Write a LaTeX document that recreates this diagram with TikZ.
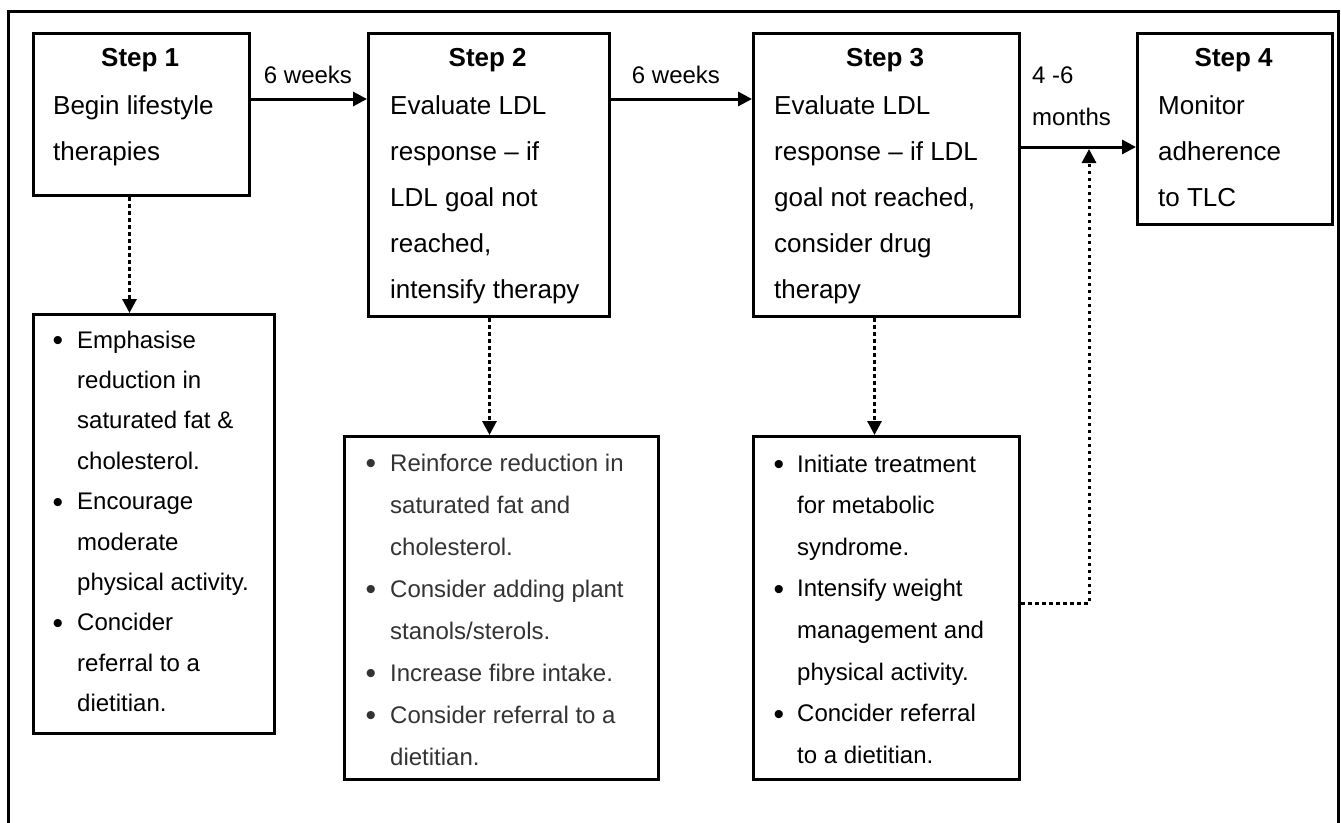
\documentclass[tikz,border=0pt]{standalone}
\usepackage{fontspec}
\setmainfont{Liberation Sans}
\usetikzlibrary{arrows.meta}
\definecolor{listgray}{HTML}{333333}
\newcommand\bul{\raisebox{-2.5pt}{\fontsize{30pt}{30pt}\selectfont •}}
\newcommand\itm{\leavevmode\llap{\bul\hspace{14pt}}}
\newcommand\itmb{\leavevmode\llap{\bul\hspace{13pt}}}
\tikzset{
  frame/.style={draw, line width=3pt},
  stepbox/.style={draw, line width=3pt, inner sep=0pt, anchor=north west},
  txt/.style={inner sep=0pt, anchor=base west},
  lbl/.style={inner sep=0pt, anchor=base, font=\fontsize{24pt}{42pt}\selectfont},
  flow/.style={line width=3pt, -{Triangle[length=14pt,width=14pt]}},
  dotflow/.style={line width=3pt, dash pattern=on 3.5pt off 3.5pt, -{Triangle[length=14pt,width=14pt]}},
}
\begin{document}
\begin{tikzpicture}[x=1pt,y=-1pt]
\useasboundingbox (0,0) rectangle (1341,822);
\draw[frame] (8,11) rectangle (1338,840);

% step boxes
\node[stepbox, minimum width=216pt, minimum height=162pt] (s1) at (32,32) {};
\node[stepbox, minimum width=241pt, minimum height=283pt] (s2) at (367,32) {};
\node[stepbox, minimum width=266pt, minimum height=283pt] (s3) at (752,32) {};
\node[stepbox, minimum width=195pt, minimum height=191pt] (s4) at (1136,32) {};

% list boxes
\node[stepbox, minimum width=241pt, minimum height=419pt] (b1) at (32,313) {};
\node[stepbox, minimum width=314pt, minimum height=343pt] (b2) at (343,435) {};
\node[stepbox, minimum width=266pt, minimum height=343pt] (b3) at (752,435) {};

% step texts
\node[txt] (t1) at (53,66) {\parbox[t]{174pt}{\fontsize{26pt}{46pt}\selectfont
  \makebox[174pt]{\bfseries Step 1}\\[2pt]Begin lifestyle\\therapies}};
\node[txt] (t2) at (390,66) {\parbox[t]{195pt}{\fontsize{26pt}{46pt}\selectfont
  \makebox[195pt]{\bfseries Step 2}\\[2pt]Evaluate LDL\\response – if\\LDL goal not\\reached,\\intensify therapy}};
\node[txt] (t3) at (774,66) {\parbox[t]{222pt}{\fontsize{26pt}{46pt}\selectfont
  \makebox[222pt]{\bfseries Step 3}\\[2pt]Evaluate LDL\\response – if LDL\\goal not reached,\\consider drug\\therapy}};
\node[txt] (t4) at (1158,66) {\parbox[t]{151pt}{\fontsize{26pt}{46pt}\selectfont
  \makebox[151pt]{\bfseries Step 4}\\[2pt]Monitor\\adherence\\to TLC}};

% list texts
\node[txt] (l1) at (77,348) {\parbox[t]{190pt}{\fontsize{24pt}{40.4pt}\selectfont
  \itm Emphasise\\reduction in\\saturated fat \&\\cholesterol.\\
  \itm Encourage\\moderate\\physical activity.\\
  \itm Concider\\referral to a\\dietitian.}};
\node[txt, text=listgray] (l2) at (390,471) {\parbox[t]{260pt}{\fontsize{24pt}{42pt}\selectfont
  \itm Reinforce reduction in\\saturated fat and\\cholesterol.\\
  \itm Consider adding plant\\stanols/sterols.\\
  \itm Increase fibre intake.\\
  \itm Consider referral to a\\dietitian.}};
\node[txt] (l3) at (797,472) {\parbox[t]{215pt}{\fontsize{24pt}{41.6pt}\selectfont
  \itmb Initiate treatment\\for metabolic\\syndrome.\\
  \itmb Intensify weight\\management and\\physical activity.\\
  \itmb Concider referral\\to a dietitian.}};

% arrow labels
\node[lbl] (w1) at (308,83) {6 weeks};
\node[lbl] (w2) at (676,83) {6 weeks};
\node[txt] (w3) at (1032,83) {\parbox[t]{90pt}{\fontsize{24pt}{42pt}\selectfont 4 -6\\months}};

% solid connectors
\draw[flow] ([yshift=-67pt]s1.north east) -- ([yshift=-67pt]s2.north west);
\draw[flow] ([yshift=-67pt]s2.north east) -- ([yshift=-67pt]s3.north west);
\draw[flow] ([yshift=-115pt]s3.north east) -- ([yshift=-115pt]s4.north west);

% dotted connectors
\draw[dotflow] ([xshift=-12pt]s1.south) -- ([xshift=-24.5pt]b1.north);
\draw[dotflow] ([xshift=0.5pt]s2.south) -- ([xshift=-12pt]b2.north);
\draw[dotflow] ([xshift=-12pt]s3.south) -- ([xshift=-12pt]b3.north);
\coordinate (j) at (1089,149);
\draw[dotflow] ([yshift=-168pt]b3.north east) -| (j);
\end{tikzpicture}
\end{document}
